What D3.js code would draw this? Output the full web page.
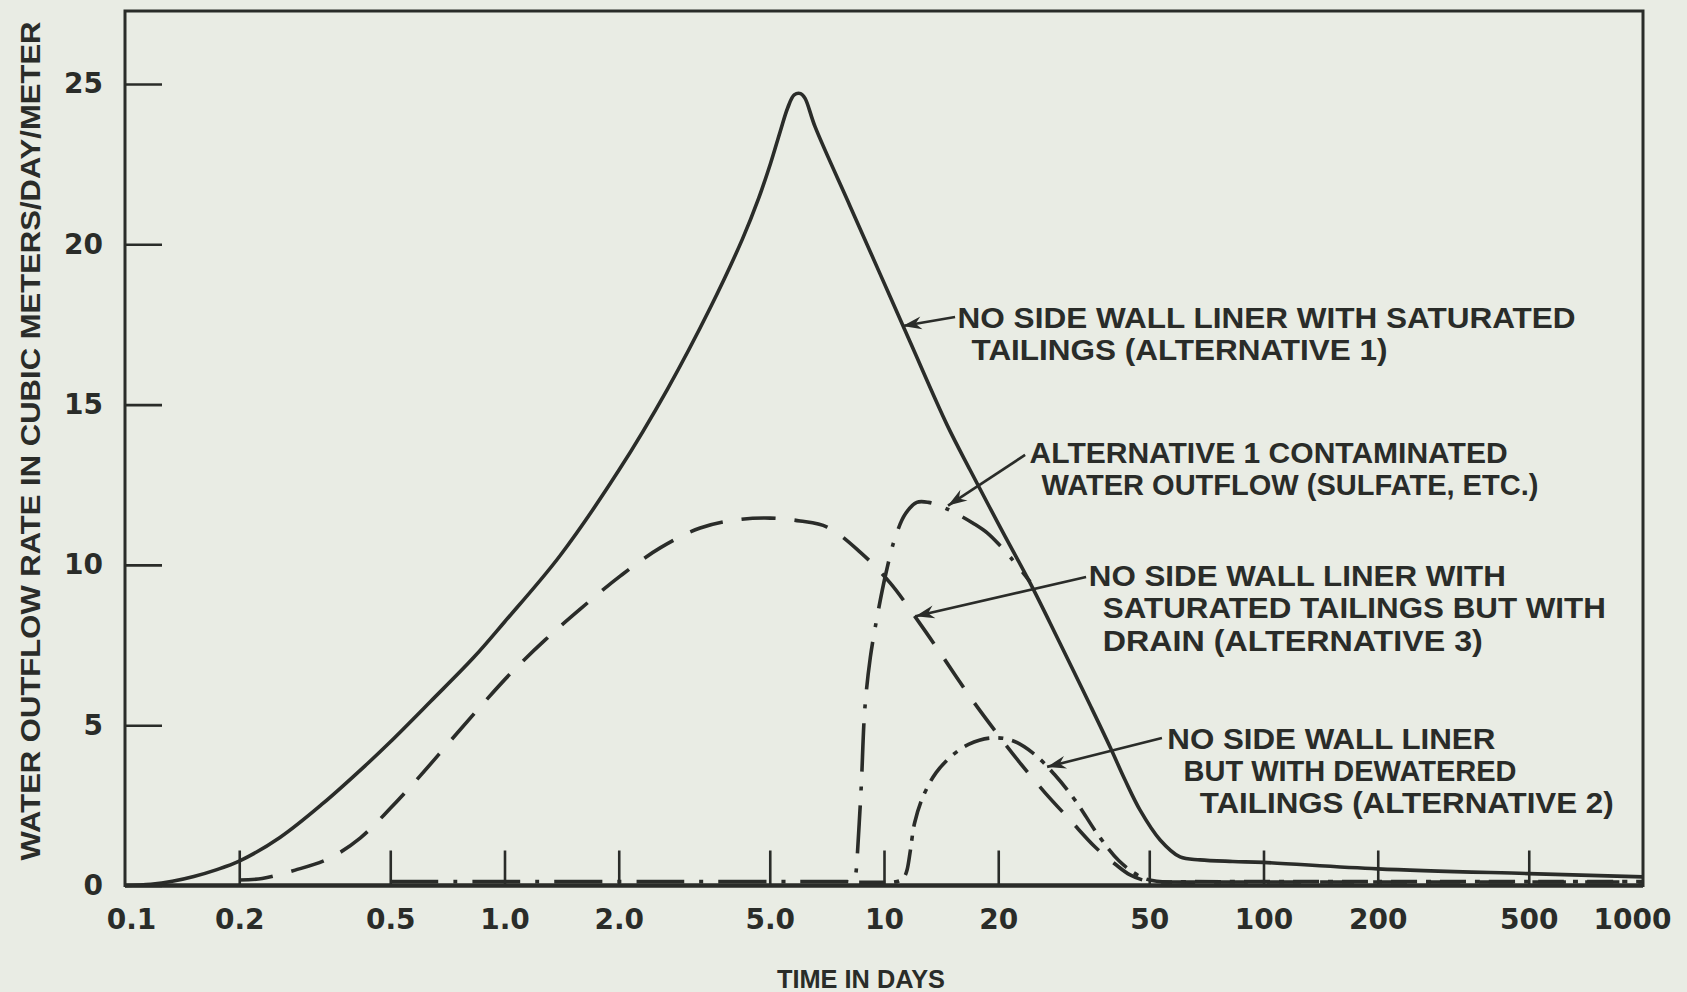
<!DOCTYPE html>
<html>
<head>
<meta charset="utf-8">
<script src="https://cdn.jsdelivr.net/npm/d3@7"></script>
<style>
  body { margin: 0; background: #e9ece4; }
  svg { display: block; }
</style>
</head>
<body>
<svg id="chart"></svg>
<script>
var width = 1687,
    height = 992;

// ---- data (time in days, outflow m3/day/m) ----
var xTickValues = [0.1, 0.2, 0.5, 1, 2, 5, 10, 20, 50, 100, 200, 500, 1000];
var xTickLabels = ["0.1", "0.2", "0.5", "1.0", "2.0", "5.0", "10", "20", "50", "100", "200", "500", "1000"];
var yTickValues = [0, 5, 10, 15, 20, 25];

// alternative 1 : no side wall liner, saturated tailings (solid)
var alt1Days = [0.1, 0.117, 0.1333, 0.1518, 0.173, 0.2, 0.256, 0.3323, 0.4315, 0.4982, 0.6384, 0.829, 1.0, 1.397, 2.001, 2.684, 3.485, 4.238, 4.676, 5.023, 5.328, 5.577, 5.799, 6.03, 6.189, 6.585, 8.14, 9.77, 11.72, 14.67, 16.86, 20.23, 24.26, 27.39, 31.49, 34.91, 39.42, 43.17, 47.29, 53.41, 60.28, 68.06, 83, 100, 200, 500, 1000];
var alt1Flow = [0, 0.04, 0.13, 0.28, 0.48, 0.76, 1.5, 2.56, 3.76, 4.46, 5.74, 7.11, 8.22, 10.27, 12.95, 15.47, 18.02, 20.17, 21.44, 22.52, 23.52, 24.26, 24.66, 24.7, 24.56, 23.66, 21.19, 19.07, 16.95, 14.36, 12.96, 11.18, 9.44, 8.19, 6.72, 5.63, 4.32, 3.29, 2.35, 1.42, 0.89, 0.8, 0.75, 0.72, 0.52, 0.37, 0.27];

// alternative 1 contaminated water outflow (long dash-dot)
var contDays = [0.5, 0.8, 1.2, 2, 3, 4.5, 6, 7.3, 8.0, 8.3, 8.42, 8.5, 8.6, 8.72, 8.9, 9.2, 9.6, 10.1, 10.7, 11.4, 12.2, 13.1, 14.3, 15.8, 17.17, 18.7, 20.23, 22.2, 24.26];
var contFlow = [0.12, 0.12, 0.12, 0.12, 0.12, 0.12, 0.12, 0.12, 0.12, 0.12, 0.35, 0.9, 1.9, 3.2, 5.5, 7.1, 8.4, 9.7, 10.85, 11.6, 11.95, 11.95, 11.8, 11.55, 11.3, 11.0, 10.6, 10.05, 9.47];

// alternative 3 : saturated tailings with drain (dashed)
var alt3Days = [0.2, 0.2298, 0.2808, 0.3472, 0.4165, 0.4995, 0.5995, 0.7191, 0.8625, 1.0349, 1.2798, 1.5824, 2.0169, 2.5712, 3.2772, 4.0515, 5.012, 6.012, 7.083, 8.651, 10.378, 12.452, 14.49, 16.86, 19.63, 22.84, 26.58, 30.94, 36.0, 40.63, 44.52, 49.35, 58.5, 80, 120, 200, 350, 600, 1000];
var alt3Flow = [0.17, 0.22, 0.48, 0.86, 1.48, 2.4, 3.42, 4.5, 5.57, 6.6, 7.66, 8.62, 9.65, 10.53, 11.15, 11.4, 11.46, 11.37, 11.18, 10.4, 9.44, 8.16, 7.03, 5.88, 4.82, 3.82, 2.89, 2.04, 1.2, 0.67, 0.33, 0.14, 0.11, 0.11, 0.11, 0.11, 0.11, 0.11, 0.11];

// alternative 2 : dewatered tailings (short dash-dot)
var alt2Days = [8.6, 9.3, 10.0, 10.5, 11.1, 11.35, 11.51, 11.74, 12.04, 12.69, 13.72, 15.14, 16.7, 19.02, 21.68, 24.7, 28.14, 32.06, 36.5, 41.6, 47.5, 52.3, 65, 90, 140, 220, 350, 600, 1000];
var alt2Flow = [0.1, 0.1, 0.1, 0.1, 0.17, 0.3, 0.5, 1.11, 1.95, 2.79, 3.52, 4.06, 4.4, 4.6, 4.53, 4.13, 3.46, 2.62, 1.61, 0.77, 0.27, 0.13, 0.12, 0.12, 0.12, 0.12, 0.12, 0.12, 0.12];

// annotations: label lines, arrow tail -> tip in data units
var labelAlt1 = ["NO SIDE WALL LINER WITH SATURATED", "TAILINGS (ALTERNATIVE 1)"];
var labelCont = ["ALTERNATIVE 1 CONTAMINATED", "WATER OUTFLOW (SULFATE, ETC.)"];
var labelAlt3 = ["NO SIDE WALL LINER WITH", "SATURATED TAILINGS BUT WITH", "DRAIN (ALTERNATIVE 3)"];
var labelAlt2 = ["NO SIDE WALL LINER", "BUT WITH DEWATERED", "TAILINGS (ALTERNATIVE 2)"];
var arrowTails = [[15.39, 17.73], [23.54, 13.43], [34.08, 9.62], [54.0, 4.6]];
var arrowTips  = [[11.2, 17.45], [14.75, 11.85], [12.1, 8.4], [26.9, 3.7]];

// ---- drawing ----
var ink = '#2a2c29';
var frameTop = 11;

var svg = d3.select('#chart')
            .attr('width', width)
            .attr('height', height);

svg.append('rect')
   .attr('width', width).attr('height', height)
   .attr('fill', '#e9ece4');

var x = d3.scaleLog().domain([0.1, 1000]).range([125, 1643]);
var y = d3.scaleLinear().domain([0, 25]).range([885.5, 84]);

// frame
svg.append('rect')
   .attr('x', x(0.1)).attr('y', frameTop)
   .attr('width', x(1000) - x(0.1))
   .attr('height', y(0) - frameTop)
   .attr('fill', 'none')
   .attr('stroke', ink)
   .attr('stroke-width', 3);

// y axis, ticks pointing inward
var yAxis = svg.append('g')
   .attr('transform', 'translate(' + x(0.1) + ',0)')
   .call(d3.axisLeft(y).tickValues(yTickValues).tickSize(-37).tickPadding(22));

// x axis, ticks pointing up
var xAxis = svg.append('g')
   .attr('transform', 'translate(0,' + y(0) + ')')
   .call(d3.axisBottom(x).tickValues(xTickValues)
          .tickFormat((d, i) => xTickLabels[i])
          .tickSize(-35).tickPadding(24));

[yAxis, xAxis].forEach(function(g){
  g.select('.domain').remove();
  g.selectAll('line').attr('stroke', ink).attr('stroke-width', 2.6);
  g.selectAll('text')
   .attr('fill', ink)
   .style('font-family', '"DejaVu Sans", sans-serif')
   .style('font-weight', 'bold')
   .style('font-size', '28px');
});
// 0.1 and 1000 sit on the frame edges: no tick, labels pulled inward
xAxis.selectAll('.tick').filter(d => d === 0.1 || d === 1000).select('line').remove();
xAxis.selectAll('.tick').filter(d => d === 0.1).select('text').attr('x', 6);
xAxis.selectAll('.tick').filter(d => d === 1000).select('text').attr('x', -11);

// thick base line
svg.append('line')
   .attr('x1', x(0.1)).attr('x2', x(1000))
   .attr('y1', y(0)).attr('y2', y(0))
   .attr('stroke', ink).attr('stroke-width', 4.5);

// curves
var line = d3.line()
             .x(d => x(d[0]))
             .y(d => y(d[1]))
             .curve(d3.curveCatmullRom.alpha(0.5));

var series = [
  {days: alt3Days, flow: alt3Flow, dash: '34,19'},
  {days: alt2Days, flow: alt2Flow, dash: '26,9,5,9'},
  {days: contDays, flow: contFlow, dash: '48,15,4,15'},
  {days: alt1Days, flow: alt1Flow, dash: null}
];

svg.append('g').selectAll('path')
   .data(series)
   .enter()
   .append('path')
     .attr('d', s => line(d3.zip(s.days, s.flow)))
     .attr('fill', 'none')
     .attr('stroke', ink)
     .attr('stroke-width', 3.6)
     .attr('stroke-linejoin', 'round')
     .attr('stroke-dasharray', s => s.dash);

// arrows
function arrowHead(tail, tip){
  var x0 = x(tail[0]), y0 = y(tail[1]), x1 = x(tip[0]), y1 = y(tip[1]);
  var a = Math.atan2(y1 - y0, x1 - x0);
  var len = 19, half = 6.5, notch = 13;
  var p = [[x1, y1],
           [x1 - len*Math.cos(a) + half*Math.sin(a), y1 - len*Math.sin(a) - half*Math.cos(a)],
           [x1 - notch*Math.cos(a), y1 - notch*Math.sin(a)],
           [x1 - len*Math.cos(a) - half*Math.sin(a), y1 - len*Math.sin(a) + half*Math.cos(a)]];
  return 'M' + p.map(q => q.join(',')).join('L') + 'Z';
}

var arrows = svg.append('g');
arrowTails.forEach(function(tail, i){
  var tip = arrowTips[i];
  arrows.append('line')
     .attr('x1', x(tail[0])).attr('y1', y(tail[1]))
     .attr('x2', x(tip[0])).attr('y2', y(tip[1]))
     .attr('stroke', ink).attr('stroke-width', 2.6);
  arrows.append('path')
     .attr('d', arrowHead(tail, tip))
     .attr('fill', ink);
});

// annotation text
var blocks = [
  {lines: labelAlt1, x: [957.6, 971.5], w: [618, 416], y: 328},
  {lines: labelCont, x: [1029.6, 1041.4], w: [478, 497], y: 462.5},
  {lines: labelAlt3, x: [1088.8, 1102.8, 1102.8], w: [417, 503, 380], y: 586},
  {lines: labelAlt2, x: [1167.3, 1183.5, 1199.7], w: [328, 333, 414], y: 748.5}
];
var lineStep = 32.4;

blocks.forEach(function(b){
  b.lines.forEach(function(t, i){
    svg.append('text')
       .attr('x', b.x[i])
       .attr('y', b.y + i*lineStep)
       .attr('textLength', b.w[i])
       .attr('lengthAdjust', 'spacingAndGlyphs')
       .attr('fill', ink)
       .style('font-family', '"Liberation Sans", Arial, sans-serif')
       .style('font-weight', 'bold')
       .style('font-size', '29px')
       .text(t);
  });
});

// axis titles
svg.append('text')
   .attr('transform', 'translate(40,441) rotate(-90)')
   .attr('text-anchor', 'middle')
   .attr('textLength', 839)
   .attr('lengthAdjust', 'spacingAndGlyphs')
   .attr('fill', ink)
   .style('font-family', '"Liberation Sans", Arial, sans-serif')
   .style('font-weight', 'bold')
   .style('font-size', '28px')
   .text('WATER OUTFLOW RATE IN CUBIC METERS/DAY/METER');

svg.append('text')
   .attr('x', 861).attr('y', 988)
   .attr('text-anchor', 'middle')
   .attr('textLength', 168)
   .attr('lengthAdjust', 'spacingAndGlyphs')
   .attr('fill', ink)
   .style('font-family', '"Liberation Sans", Arial, sans-serif')
   .style('font-weight', 'bold')
   .style('font-size', '25px')
   .text('TIME IN DAYS');
</script>
</body>
</html>
